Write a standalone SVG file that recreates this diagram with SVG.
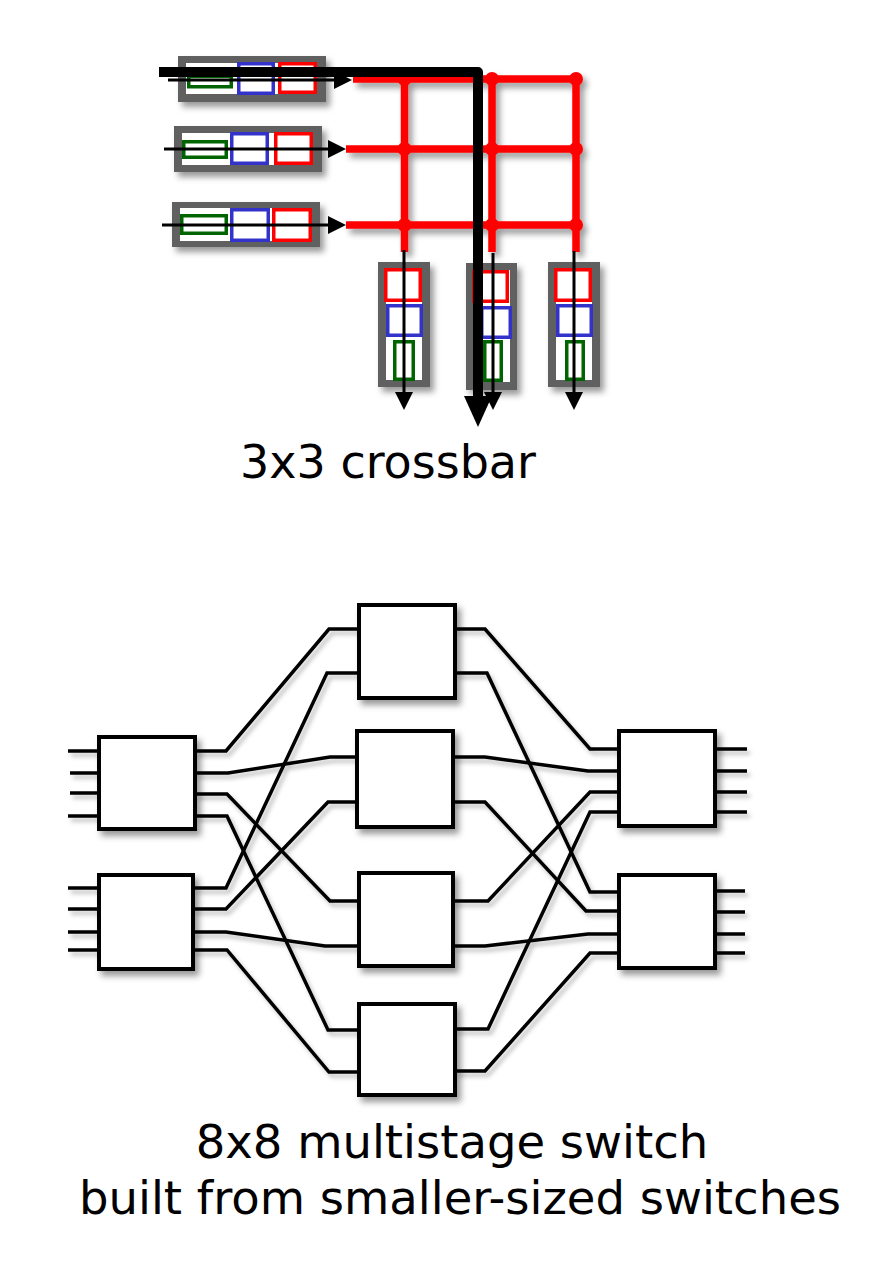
<svg xmlns="http://www.w3.org/2000/svg" width="882" height="1268" viewBox="0 0 882 1268">
<defs>
<filter id="sh" x="-20%" y="-20%" width="150%" height="150%">
<feDropShadow dx="4" dy="5" stdDeviation="3" flood-color="#000" flood-opacity="0.4"/>
</filter>
<filter id="shl" x="-20%" y="-20%" width="150%" height="150%">
<feDropShadow dx="3" dy="4" stdDeviation="2" flood-color="#000" flood-opacity="0.25"/>
</filter>
<marker id="ah" markerUnits="userSpaceOnUse" markerWidth="18" markerHeight="18" refX="1" refY="9" orient="auto">
<path d="M0,0 L18,9 L0,18 z" fill="#000"/>
</marker>
<marker id="ahb" markerUnits="userSpaceOnUse" markerWidth="31" markerHeight="28" refX="1" refY="14" orient="auto">
<path d="M0,0 L31,14 L0,28 z" fill="#000"/>
</marker>
</defs>
<style>
.gray{fill:#616161;filter:url(#sh)}
.wh{fill:#fff}
.g{fill:none;stroke:#006400;stroke-width:3.5}
.b{fill:none;stroke:#3333cc;stroke-width:3.5}
.r{fill:none;stroke:#ff0000;stroke-width:3.5}
.grid{stroke:#ff0000;stroke-width:7.5;fill:none}
.dot{fill:#ff0000}
.thin{stroke:#000;stroke-width:3;fill:none;marker-end:url(#ah)}
.thick{stroke:#000;stroke-width:10;fill:none;stroke-linejoin:round;marker-end:url(#ahb)}
.box{fill:#fff;stroke:#000;stroke-width:4;filter:url(#sh)}
.w{fill:none;stroke:#000;stroke-width:3.5;stroke-linejoin:miter}
.lbl{font-family:"DejaVu Sans","Open Sans",sans-serif;font-size:46px;fill:#000;text-anchor:middle}
.lbl2{font-family:"DejaVu Sans","Open Sans",sans-serif;font-size:46.5px;fill:#000;text-anchor:middle}
</style>

<g id="grid" filter="url(#sh)">
<path class="grid" d="M353,79 H576 M346,149 H576 M346,225 H576 M404.5,79 V252 M492,79 V252 M576,79 V252"/>
<circle class="dot" cx="404.5" cy="79" r="7"/><circle class="dot" cx="492" cy="79" r="7"/><circle class="dot" cx="576" cy="79" r="7"/>
<circle class="dot" cx="404.5" cy="149" r="7"/><circle class="dot" cx="492" cy="149" r="7"/><circle class="dot" cx="576" cy="149" r="7"/>
<circle class="dot" cx="404.5" cy="225" r="7"/><circle class="dot" cx="492" cy="225" r="7"/><circle class="dot" cx="576" cy="225" r="7"/>
</g>

<g id="in1">
<rect class="gray" x="178" y="56" width="148" height="46"/>
<rect class="wh" x="186" y="63" width="131" height="31"/>
<rect class="g" x="188.75" y="76.25" width="42.5" height="10.5"/>
<rect class="b" x="238.75" y="63.75" width="34.5" height="29.5"/>
<rect class="r" x="279.75" y="63.75" width="35.5" height="28.5"/>
</g>
<g id="in2">
<rect class="gray" x="174" y="126" width="148" height="46"/>
<rect class="wh" x="182" y="133" width="131" height="32"/>
<rect class="g" x="183.75" y="141.75" width="42.5" height="15.5"/>
<rect class="b" x="231.75" y="133.75" width="35.5" height="29.5"/>
<rect class="r" x="275.75" y="133.75" width="35.5" height="29.5"/>
</g>
<g id="in3">
<rect class="gray" x="172" y="202" width="148" height="45"/>
<rect class="wh" x="180" y="208" width="131" height="33"/>
<rect class="g" x="181.75" y="215.75" width="44.5" height="17.5"/>
<rect class="b" x="231.75" y="209.75" width="36.5" height="30.5"/>
<rect class="r" x="273.75" y="209.75" width="36.5" height="30.5"/>
</g>

<g id="out1">
<rect class="gray" x="378" y="262" width="52" height="125"/>
<rect class="wh" x="386" y="268" width="36" height="112"/>
<rect class="r" x="385.75" y="269.75" width="34.5" height="30.5"/>
<rect class="b" x="387.75" y="305.75" width="33.5" height="29.5"/>
<rect class="g" x="394.75" y="341.75" width="18.5" height="37.5"/>
</g>
<g id="out2">
<rect class="gray" x="466" y="263" width="51" height="127"/>
<rect class="wh" x="474" y="270" width="36" height="112"/>
<rect class="r" x="473.75" y="271.75" width="33.5" height="29.5"/>
<rect class="b" x="481.75" y="307.75" width="28.5" height="29.5"/>
<rect class="g" x="484.75" y="341.75" width="16.5" height="38.5"/>
</g>
<g id="out3">
<rect class="gray" x="548" y="262" width="52" height="125"/>
<rect class="wh" x="556" y="268" width="36" height="112"/>
<rect class="r" x="555.75" y="269.75" width="34.5" height="30.5"/>
<rect class="b" x="557.75" y="305.75" width="33.5" height="29.5"/>
<rect class="g" x="566.75" y="341.75" width="16.5" height="37.5"/>
</g>

<g id="crossbar-arrows">
<path class="thin" d="M168,80 H335"/>
<path class="thin" d="M164,149 H329"/>
<path class="thin" d="M162,225 H329"/>
<path class="thin" d="M404,250 V393"/>
<path class="thin" d="M493,253 V393"/>
<path class="thin" d="M574,251 V393"/>
<path class="thick" d="M159,72 H478 V397"/>
</g>

<text id="label-crossbar" class="lbl" x="388" y="478">3x3 crossbar</text>

<g id="connectors" filter="url(#shl)">
<path class="w" d="M68,751 H99 M70,773 H99 M70,793 H99 M68,816 H99"/>
<path class="w" d="M68,888 H99 M68,909 H99 M68,932 H99 M68,950 H99"/>
<path class="w" d="M715,749 H747 M715,771 H747 M715,792 H747 M715,812 H747"/>
<path class="w" d="M715,891 H745 M715,912 H745 M715,934 H745 M715,953 H745"/>
<path class="w" d="M195,751 H226 L329,629 H359"/>
<path class="w" d="M195,773 H228 L330,757 H357"/>
<path class="w" d="M195,794 H227 L330,901 H359"/>
<path class="w" d="M195,816 H227 L328,1030 H359"/>
<path class="w" d="M193,888 H226 L327,673 H359"/>
<path class="w" d="M193,909 H226 L328,802 H357"/>
<path class="w" d="M193,932 H226 L325,946 H359"/>
<path class="w" d="M193,950 H227 L329,1072 H359"/>
<path class="w" d="M455,629 H485 L590,749 H619"/>
<path class="w" d="M455,673 H487 L590,892 H619"/>
<path class="w" d="M453,757 H485 L588,771 H619"/>
<path class="w" d="M453,802 H485 L586,911 H619"/>
<path class="w" d="M453,901 H488 L590,792 H619"/>
<path class="w" d="M453,946 H485 L588,934 H619"/>
<path class="w" d="M455,1029 H488 L590,812 H619"/>
<path class="w" d="M455,1071 H485 L590,953 H619"/>
</g>

<g id="L1"><rect class="box" x="99" y="737" width="96" height="92"/></g>
<g id="L2"><rect class="box" x="99" y="875" width="94" height="94"/></g>
<g id="M1"><rect class="box" x="359" y="605" width="96" height="93"/></g>
<g id="M2"><rect class="box" x="357" y="731" width="96" height="96"/></g>
<g id="M3"><rect class="box" x="359" y="873" width="94" height="93"/></g>
<g id="M4"><rect class="box" x="359" y="1004" width="96" height="91"/></g>
<g id="R1"><rect class="box" x="619" y="731" width="96" height="95"/></g>
<g id="R2"><rect class="box" x="619" y="875" width="96" height="93"/></g>

<text id="label-multistage-1" class="lbl2" x="452" y="1158">8x8 multistage switch</text>
<text id="label-multistage-2" class="lbl2" x="460" y="1214">built from smaller-sized switches</text>
</svg>
